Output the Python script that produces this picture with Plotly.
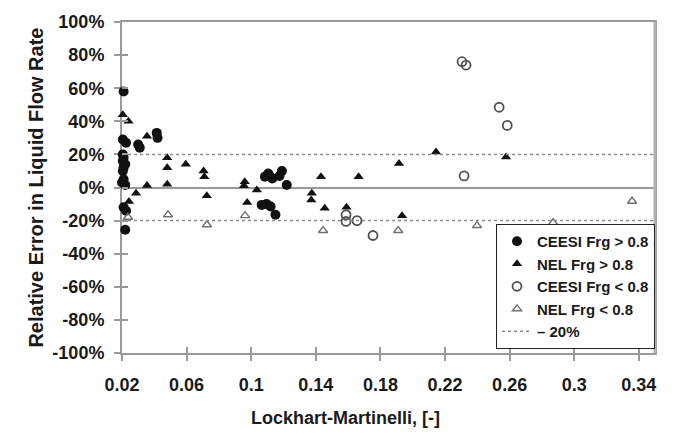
import plotly.graph_objects as go

# ---------------- data ----------------
ceesi_hi_x = [0.021, 0.0205, 0.0225, 0.0205, 0.021, 0.0205, 0.022, 0.021, 0.0205, 0.021, 0.020, 0.022,
              0.021, 0.0225, 0.022, 0.030, 0.031, 0.0415, 0.042,
              0.1085, 0.1105, 0.113, 0.111, 0.119, 0.1175, 0.122, 0.1065, 0.1095, 0.112, 0.115]
ceesi_hi_y = [58, 29, 27, 20, 18, 16, 14, 12, 10, 5, 3, 1.5,
              -12, -14, -25.5, 26, 24, 33, 30,
              6.5, 8.5, 5.5, 7.5, 10, 7, 1.5, -10.5, -10, -11.5, -16.5]

nel_hi_x = [0.0205, 0.024, 0.0355, 0.048, 0.048, 0.048, 0.0595, 0.0705, 0.071, 0.0725, 0.0355, 0.0287,
            0.0243, 0.0955, 0.096, 0.0975, 0.1035, 0.1432, 0.1665, 0.1915, 0.2144, 0.1375, 0.1372,
            0.1455, 0.159, 0.1934, 0.2578]
nel_hi_y = [44, 40, 31, 18, 12, 2, 14, 10, 6.5, -5, 1.2, -3.5,
            -8.5, 1, 3.5, -9, -1.5, 6.5, 6.5, 14.5, 21.5, -3.5, -7.5,
            -12.5, -12, -17, 18.5]

ceesi_lo_x = [0.2305, 0.233, 0.2535, 0.2585, 0.2318, 0.1587, 0.1587, 0.1655, 0.1754]
ceesi_lo_y = [76, 74, 48.5, 37.5, 7, -16.5, -20.5, -20, -29]

nel_lo_x = [0.0237, 0.0485, 0.0726, 0.0962, 0.1445, 0.191, 0.2398, 0.2869, 0.3358]
nel_lo_y = [-18, -16.5, -22.5, -17, -26, -26, -23, -21.3, -8.3]

band_x = [0.02, 0.35, None, 0.02, 0.35]
band_y = [20, 20, None, -20, -20]

x_ticks = [0.02, 0.06, 0.1, 0.14, 0.18, 0.22, 0.26, 0.3, 0.34]
x_ticktext = ["0.02", "0.06", "0.1", "0.14", "0.18", "0.22", "0.26", "0.3", "0.34"]
y_ticks = [-100, -80, -60, -40, -20, 0, 20, 40, 60, 80, 100]
y_ticktext = ["-100%", "-80%", "-60%", "-40%", "-20%", "0%", "20%", "40%", "60%", "80%", "100%"]

x_range = [0.02, 0.35]
y_range = [-100, 100]

FONT = "Arial, Liberation Sans, sans-serif"
AX = "#9a9a9a"
TXT = "#1a1a1a"

fig = go.Figure()
fig.add_trace(go.Scatter(x=ceesi_hi_x, y=ceesi_hi_y, mode="markers", name="CEESI Frg &gt; 0.8",
                         cliponaxis=False,
                         marker=dict(symbol="circle", size=10, color="#111111")))
fig.add_trace(go.Scatter(x=nel_hi_x, y=nel_hi_y, mode="markers", name="NEL Frg &gt; 0.8",
                         cliponaxis=False,
                         marker=dict(symbol="triangle-up", size=9, color="#111111")))
fig.add_trace(go.Scatter(x=ceesi_lo_x, y=ceesi_lo_y, mode="markers", name="CEESI Frg &lt; 0.8",
                         cliponaxis=False,
                         marker=dict(symbol="circle-open", size=9, color="#505050", line=dict(width=1.8))))
fig.add_trace(go.Scatter(x=nel_lo_x, y=nel_lo_y, mode="markers", name="NEL Frg &lt; 0.8",
                         cliponaxis=False,
                         marker=dict(symbol="triangle-up-open", size=8, color="#707070", line=dict(width=1.4))))
fig.add_trace(go.Scatter(x=band_x, y=band_y, mode="lines", name="– 20%",
                         line=dict(color="#8a8a8a", width=1.5, dash="dot")))
# helper trace for the inner tick marks
fig.add_trace(go.Scatter(x=[None], y=[None], xaxis="x2", yaxis="y2", showlegend=False, hoverinfo="skip"))

fig.update_layout(
    width=686, height=435,
    margin=dict(l=122, r=31, t=15, b=82),
    paper_bgcolor="white", plot_bgcolor="white",
    font=dict(family=FONT, size=18, color=TXT, weight="bold"),
    showlegend=True,
    legend=dict(x=1, y=0.012, xanchor="right", yanchor="bottom",
                bgcolor="white", bordercolor="#222222", borderwidth=1,
                font=dict(size=15, family=FONT, weight="bold", color=TXT),
                tracegroupgap=0, itemwidth=30),
    xaxis=dict(range=x_range, tickvals=x_ticks, ticktext=x_ticktext, layer="below traces",
               showgrid=False, zeroline=False, showline=True, linecolor=AX, linewidth=2,
               mirror=True, ticks="outside", ticklen=6, tickcolor=AX, tickwidth=1.5,
               ticklabelstandoff=8, tickfont=dict(size=18)),
    yaxis=dict(range=y_range, tickvals=y_ticks, ticktext=y_ticktext, layer="below traces",
               showgrid=False, zeroline=True, zerolinecolor=AX, zerolinewidth=2,
               showline=True, linecolor=AX, linewidth=2, mirror=True,
               ticks="outside", ticklen=6, tickcolor=AX, tickwidth=1.5,
               ticklabelstandoff=6, tickfont=dict(size=18)),
    xaxis2=dict(range=x_range, tickvals=x_ticks, overlaying="x", anchor="y2", side="bottom",
                showticklabels=False, showgrid=False, zeroline=False, showline=False,
                ticks="inside", ticklen=6, tickcolor=AX, tickwidth=1.5),
    yaxis2=dict(range=y_range, tickvals=y_ticks, overlaying="y", anchor="x2", side="left",
                showticklabels=False, showgrid=False, zeroline=False, showline=False,
                ticks="inside", ticklen=6, tickcolor=AX, tickwidth=1.5),
    annotations=[
        dict(text="Lockhart-Martinelli, [-]", xref="paper", yref="paper", x=0.42, y=-0.195,
             xanchor="center", yanchor="middle", showarrow=False,
             font=dict(size=18, family=FONT, weight="bold", color=TXT)),
        dict(text="Relative Error in Liquid Flow Rate", xref="paper", yref="paper", x=-0.163, y=0.5,
             xanchor="center", yanchor="middle", showarrow=False, textangle=-90,
             font=dict(size=20, family=FONT, weight="bold", color=TXT)),
    ],
    shapes=[
        dict(type="line", xref="paper", yref="paper", x0=1, x1=1, y0=0, y1=1,
             line=dict(color="#b0b0b0", width=3)),
    ],
)

fig.write_html("out.html")
